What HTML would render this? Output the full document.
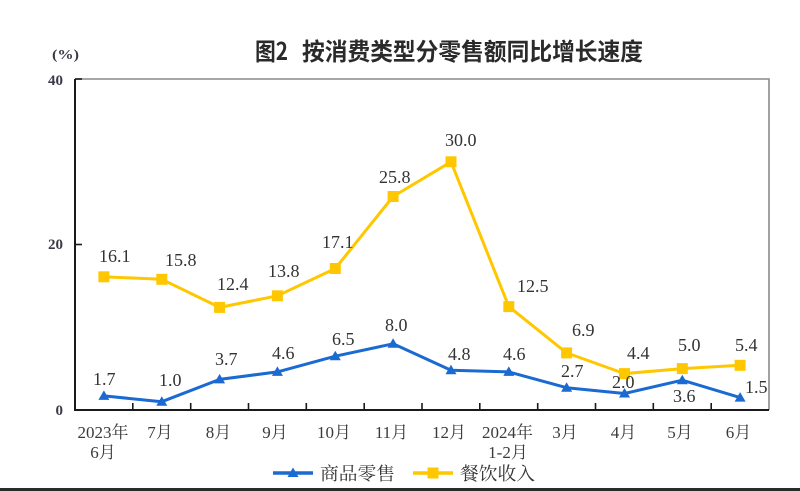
<!DOCTYPE html>
<html><head><meta charset="utf-8"><style>
html,body{margin:0;padding:0;background:#fff;}
svg{display:block;}
.l{font-family:"Liberation Serif","Noto Serif CJK SC",serif;font-size:18px;fill:#333;}
.x{font-family:"Liberation Serif","Noto Serif CJK SC",serif;font-size:17px;fill:#3a3a3a;text-anchor:middle;}
.y{font-family:"Liberation Serif",serif;font-size:15px;font-weight:bold;fill:#3a3a48;text-anchor:end;}
</style></head><body>
<svg width="800" height="491" viewBox="0 0 800 491" xmlns="http://www.w3.org/2000/svg">
<rect width="800" height="491" fill="#fff"/>
<text x="255" y="60" font-family="'Noto Sans CJK SC','WenQuanYi Zen Hei',sans-serif" font-size="24" font-weight="bold" fill="#2a2a2a" textLength="33" lengthAdjust="spacingAndGlyphs">图2</text>
<text x="302" y="60" font-family="'Noto Sans CJK SC','WenQuanYi Zen Hei',sans-serif" font-size="24" font-weight="bold" fill="#2a2a2a" textLength="341" lengthAdjust="spacingAndGlyphs">按消费类型分零售额同比增长速度</text>
<text x="52" y="59" font-family="'Liberation Serif','Noto Serif CJK SC',serif" font-size="14" font-weight="bold" fill="#3a3a48" textLength="27" lengthAdjust="spacingAndGlyphs">(%)</text>
<text class="y" x="63" y="85">40</text>
<text class="y" x="63" y="249">20</text>
<text class="y" x="63" y="415">0</text>
<!-- frame -->
<polyline points="75,79 769,79 769,410" fill="none" stroke="#8a8a8a" stroke-width="1.6"/>
<polyline points="75,79 75,410 769,410" fill="none" stroke="#1a1a1a" stroke-width="2"/>
<line x1="75" y1="79" x2="82" y2="79" stroke="#1a1a1a" stroke-width="1.6"/>
<line x1="75" y1="244.5" x2="82" y2="244.5" stroke="#1a1a1a" stroke-width="1.6"/>
<g stroke="#1a1a1a" stroke-width="1.6">
<line x1="132.8" y1="410" x2="132.8" y2="403"/>
<line x1="190.7" y1="410" x2="190.7" y2="403"/>
<line x1="248.5" y1="410" x2="248.5" y2="403"/>
<line x1="306.3" y1="410" x2="306.3" y2="403"/>
<line x1="364.2" y1="410" x2="364.2" y2="403"/>
<line x1="422" y1="410" x2="422" y2="403"/>
<line x1="479.8" y1="410" x2="479.8" y2="403"/>
<line x1="537.7" y1="410" x2="537.7" y2="403"/>
<line x1="595.5" y1="410" x2="595.5" y2="403"/>
<line x1="653.3" y1="410" x2="653.3" y2="403"/>
<line x1="711.2" y1="410" x2="711.2" y2="403"/>
</g>
<!-- yellow series -->
<polyline fill="none" stroke="#FFC700" stroke-width="3" stroke-linejoin="round" points="103.9,276.8 161.8,279.3 219.6,307.4 277.4,295.8 335.3,268.5 393.1,196.5 451,161.8 508.8,306.6 566.6,352.9 624.5,373.6 682.3,368.6 740.1,365.3"/>
<g fill="#FFC700">
<rect x="98.4" y="271.3" width="11" height="11"/>
<rect x="156.3" y="273.8" width="11" height="11"/>
<rect x="214.1" y="301.9" width="11" height="11"/>
<rect x="271.9" y="290.3" width="11" height="11"/>
<rect x="329.8" y="263" width="11" height="11"/>
<rect x="387.6" y="191" width="11" height="11"/>
<rect x="445.5" y="156.3" width="11" height="11"/>
<rect x="503.3" y="301.1" width="11" height="11"/>
<rect x="561.1" y="347.4" width="11" height="11"/>
<rect x="619" y="368.1" width="11" height="11"/>
<rect x="676.8" y="363.1" width="11" height="11"/>
<rect x="734.6" y="359.8" width="11" height="11"/>
</g>
<!-- blue series -->
<polyline fill="none" stroke="#1a6ad2" stroke-width="3" stroke-linejoin="round" points="103.9,395.9 161.8,401.7 219.6,379.4 277.4,371.9 335.3,356.2 393.1,343.8 451,370.3 508.8,371.9 566.6,387.7 624.5,393.5 682.3,380.2 740.1,397.6"/>
<g fill="#1a6ad2">
<polygon points="103.9,390.4 109.4,399.9 98.4,399.9"/>
<polygon points="161.8,396.2 167.3,405.7 156.3,405.7"/>
<polygon points="219.6,373.9 225.1,383.4 214.1,383.4"/>
<polygon points="277.4,366.4 282.9,375.9 271.9,375.9"/>
<polygon points="335.3,350.7 340.8,360.2 329.8,360.2"/>
<polygon points="393.1,338.3 398.6,347.8 387.6,347.8"/>
<polygon points="451,364.8 456.5,374.3 445.5,374.3"/>
<polygon points="508.8,366.4 514.3,375.9 503.3,375.9"/>
<polygon points="566.6,382.2 572.1,391.7 561.1,391.7"/>
<polygon points="624.5,388 630,397.5 619,397.5"/>
<polygon points="682.3,374.7 687.8,384.2 676.8,384.2"/>
<polygon points="740.1,392.1 745.6,401.6 734.6,401.6"/>
</g>
<!-- data labels -->
<text class="l" x="99" y="262">16.1</text>
<text class="l" x="165" y="266">15.8</text>
<text class="l" x="217" y="290">12.4</text>
<text class="l" x="268" y="277">13.8</text>
<text class="l" x="322" y="248">17.1</text>
<text class="l" x="379" y="183">25.8</text>
<text class="l" x="445" y="146">30.0</text>
<text class="l" x="517" y="292">12.5</text>
<text class="l" x="572" y="336">6.9</text>
<text class="l" x="627" y="359">4.4</text>
<text class="l" x="678" y="351">5.0</text>
<text class="l" x="735" y="351">5.4</text>
<text class="l" x="93" y="385">1.7</text>
<text class="l" x="159" y="386">1.0</text>
<text class="l" x="215" y="365">3.7</text>
<text class="l" x="272" y="359">4.6</text>
<text class="l" x="332" y="345">6.5</text>
<text class="l" x="385" y="331">8.0</text>
<text class="l" x="448" y="360">4.8</text>
<text class="l" x="503" y="360">4.6</text>
<text class="l" x="561" y="377">2.7</text>
<text class="l" x="612" y="388">2.0</text>
<text class="l" x="673" y="402">3.6</text>
<text class="l" x="745" y="393">1.5</text>
<!-- x labels -->
<text class="x" x="103" y="438">2023年</text>
<text class="x" x="103" y="458">6月</text>
<text class="x" x="160" y="438">7月</text>
<text class="x" x="218.5" y="438">8月</text>
<text class="x" x="275" y="438">9月</text>
<text class="x" x="334" y="438">10月</text>
<text class="x" x="391.5" y="438">11月</text>
<text class="x" x="449" y="438">12月</text>
<text class="x" x="507.5" y="438">2024年</text>
<text class="x" x="508" y="458">1-2月</text>
<text class="x" x="565" y="438">3月</text>
<text class="x" x="623.5" y="438">4月</text>
<text class="x" x="680" y="438">5月</text>
<text class="x" x="738.5" y="438">6月</text>
<!-- legend -->
<line x1="273" y1="473" x2="313" y2="473" stroke="#1a6ad2" stroke-width="3.5"/>
<polygon points="293,467.5 298.5,477 287.5,477" fill="#1a6ad2"/>
<text x="320" y="480" font-family="'Liberation Serif','Noto Serif CJK SC',serif" font-size="18" fill="#333" textLength="75" lengthAdjust="spacingAndGlyphs">商品零售</text>
<line x1="413" y1="473" x2="453" y2="473" stroke="#FFC700" stroke-width="3.5"/>
<rect x="427.5" y="467.5" width="11" height="11" fill="#FFC700"/>
<text x="460" y="480" font-family="'Liberation Serif','Noto Serif CJK SC',serif" font-size="18" fill="#333" textLength="75" lengthAdjust="spacingAndGlyphs">餐饮收入</text>
<!-- bottom band -->
<rect x="0" y="488" width="800" height="3" fill="#2a2a2a"/>
</svg>
</body></html>
